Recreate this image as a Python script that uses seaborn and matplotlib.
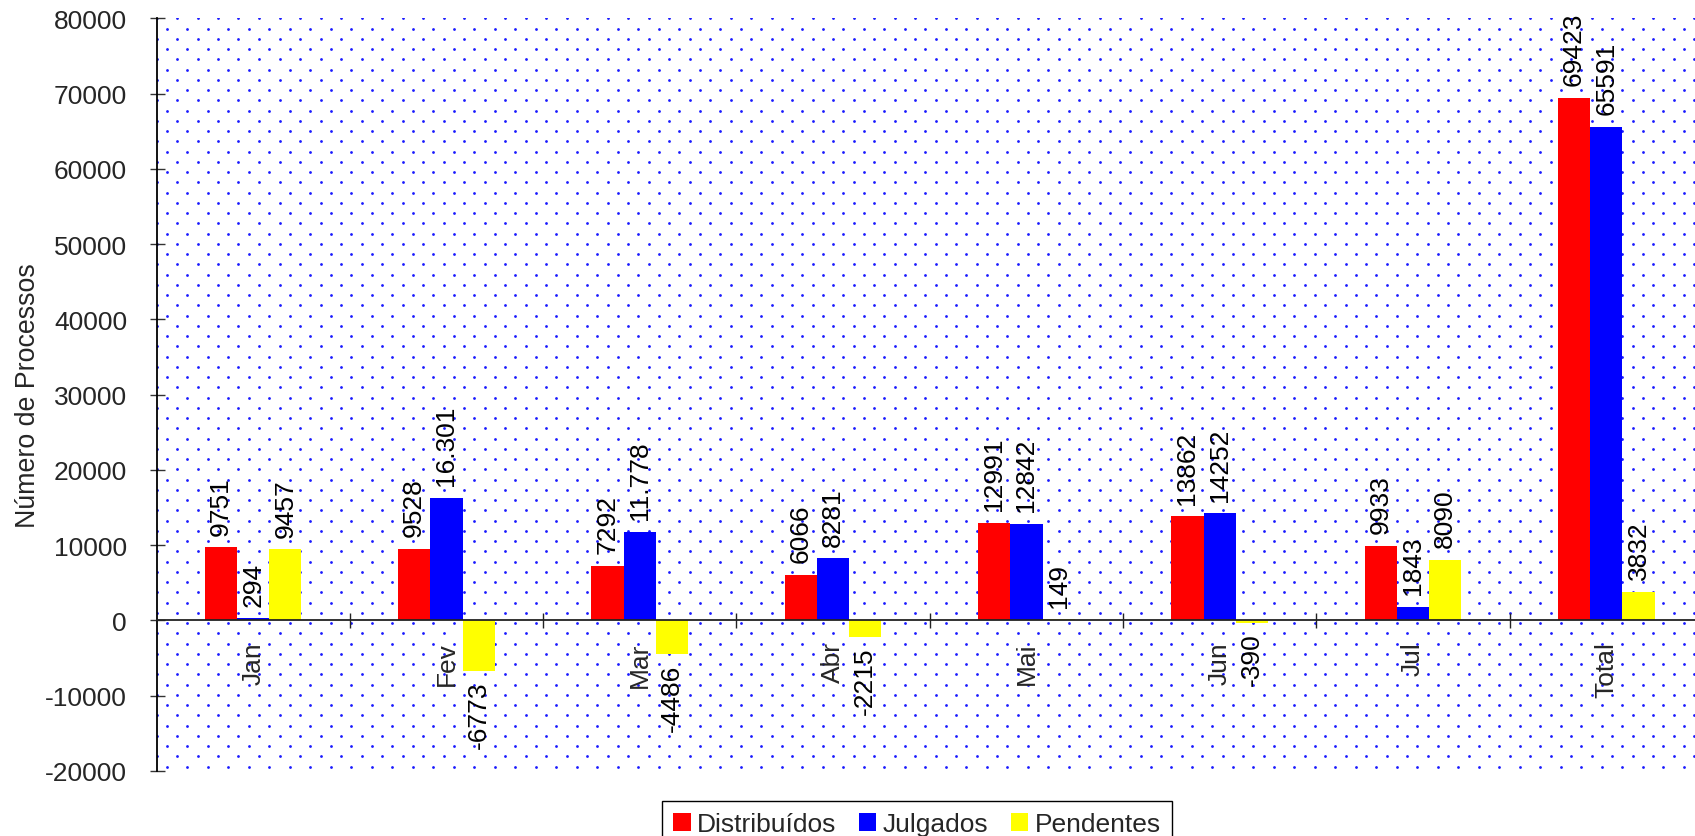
import numpy as np
import pandas as pd
import matplotlib
matplotlib.use("Agg")
import matplotlib.pyplot as plt
import seaborn as sns
from matplotlib.patches import Patch
from matplotlib.ticker import FixedLocator

# ---------------- data ----------------
meses = ["Jan", "Fev", "Mar", "Abr", "Mai", "Jun", "Jul", "Total"]
series = ["Distribuídos", "Julgados", "Pendentes"]
distribuidos = [9751, 9528, 7292, 6066, 12991, 13862, 9933, 69423]
julgados = [294, 16301, 11778, 8281, 12842, 14252, 1843, 65591]
pendentes = [9457, -6773, -4486, -2215, 149, -390, 8090, 3832]
rotulos_distribuidos = ["9751", "9528", "7292", "6066", "12991", "13862", "9933", "69423"]
rotulos_julgados = ["294", "16.301", "11.778", "8281", "12842", "14252", "1843", "65591"]
rotulos_pendentes = ["9457", "-6773", "-4486", "-2215", "149", "-390", "8090", "3832"]
y_ticks = [-20000, -10000, 0, 10000, 20000, 30000, 40000, 50000, 60000, 70000, 80000]
cores = ["#ff0000", "#0000ff", "#ffff00"]

df = pd.DataFrame({
    "mes": meses * 3,
    "serie": [series[0]] * len(meses) + [series[1]] * len(meses) + [series[2]] * len(meses),
    "valor": distribuidos + julgados + pendentes,
})

# ---------------- style ----------------
sns.set_style("white")
plt.rcParams["font.family"] = ["Liberation Sans", "DejaVu Sans"]
plt.rcParams["axes.unicode_minus"] = False

W, H = 1695, 837
fig = plt.figure(figsize=(W / 100, H / 100), dpi=100)
ax_l, ax_t, ax_r, ax_b = 156.5, 19.3, 1703.0, 772.0
ax = fig.add_axes([ax_l / W, 1 - ax_b / H, (ax_r - ax_l) / W, (ax_b - ax_t) / H])
ax.set_facecolor("white")

# dotted background pattern (decoration)
p = 20.5
gx, gy = np.meshgrid(np.arange(ax_l, ax_r + 1, p), np.arange(ax_t, ax_b + 1, p))
hx, hy = gx + p / 2, gy + p / 2
dx = np.concatenate([gx.ravel(), hx.ravel()])
dy = np.concatenate([gy.ravel(), hy.ravel()])
ax.scatter(dx / W, 1 - dy / H, s=4, c="#1a1aff", linewidths=0,
           transform=fig.transFigure, zorder=0.5)

sns.barplot(data=df, x="mes", y="valor", hue="serie", order=meses, hue_order=series,
            palette=cores, saturation=1, width=0.5, edgecolor="none", linewidth=0,
            errorbar=None, legend=False, ax=ax, zorder=2)

valores = [distribuidos, julgados, pendentes]
rotulos = [rotulos_distribuidos, rotulos_julgados, rotulos_pendentes]
for cont, vals, rot in zip(ax.containers, valores, rotulos):
    pos = [r if v >= 0 else "" for v, r in zip(vals, rot)]
    neg = [r if v < 0 else "" for v, r in zip(vals, rot)]
    ax.bar_label(cont, labels=pos, padding=9, rotation=90, fontsize=19, color="black")
    ax.bar_label(cont, labels=neg, padding=6.5, rotation=90, fontsize=19, color="black")

ax.set_xlim(-0.5, 7.5)
ax.set_ylim(-20000, 80000)

# axes / spines
for s in ["top", "right"]:
    ax.spines[s].set_visible(False)
ax.spines["bottom"].set_position(("data", 0))
ax.spines["bottom"].set_color("#222222")
ax.spines["bottom"].set_linewidth(1.3)
ax.spines["left"].set_color("black")
ax.spines["left"].set_linewidth(1.3)

ax.set_yticks(y_ticks)
ax.set_yticklabels([str(v) for v in y_ticks])
ax.tick_params(axis="y", direction="inout", length=10.8, width=1, color="#333333",
               pad=15.8, labelsize=19, left=True)

ax.set_xticks(range(len(meses)))
ax.set_xticklabels(meses, rotation=90)
ax.tick_params(axis="x", which="major", length=0, pad=15.0, labelsize=19, bottom=True)
ax.xaxis.set_minor_locator(FixedLocator([i + 0.5 for i in range(len(meses))]))
ax.tick_params(axis="x", which="minor", direction="inout", length=10.8, width=1,
               color="#222222", bottom=True)

ax.set_xlabel("")
ax.set_ylabel("Número de Processos", fontsize=19.3)
ax.yaxis.set_label_coords(-0.075, 0.5)

handles = [Patch(facecolor=c, edgecolor="none", label=s) for c, s in zip(cores, series)]
leg = fig.legend(handles=handles, loc="upper center", bbox_to_anchor=(917 / W, 1 - 802 / H),
                 ncol=3, frameon=True, fancybox=False, edgecolor="black", framealpha=1,
                 fontsize=19, handlelength=0.65, handleheight=0.7, handletextpad=0.25,
                 columnspacing=0.85, borderpad=0.42, borderaxespad=0)
leg.get_frame().set_linewidth(1.0)

fig.savefig("out.png", dpi=100)
